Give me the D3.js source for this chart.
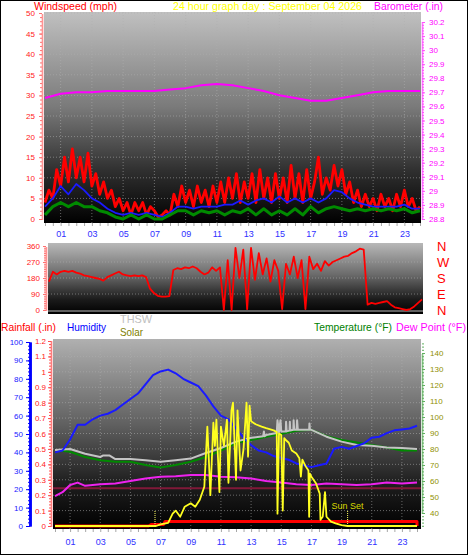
<!DOCTYPE html>
<html><head><meta charset="utf-8">
<script src="https://cdn.jsdelivr.net/npm/d3@7"></script>
<style>
body{margin:0;background:#fff;}
svg{display:block;font-family:"Liberation Sans",Arial,sans-serif;}
</style></head><body>
<svg id="c" width="468" height="555"></svg>
<script>
// ---------------- DATA ----------------
const titleText = "24 hour graph day : September 04 2026";
const hourTickValues = [1,3,5,7,9,11,13,15,17,19,21,23];
const hourTickLabels = ["01","03","05","07","09","11","13","15","17","19","21","23"];

// wind speed (mph), 15-minute samples from 00:00 to 24:00
const windHighStep = 0.25;
const windHigh = [4,7,5,12,8,15,9,17,10,15,9,16,8,11,6,9,5,7,3,5,2,4,1,4,2,4,1,3,2,0.5,1,2,
  1,6,3,8,4,7,3,8,4,7,3,8,4,9,4,10,5,11,4,9,5,11,4,12,5,10,4,11,5,10,4,13,5,11,4,12,
  5,9,15,6,10,7,13,8,12,6,9,4,7,3,6,3,5,2,6,3,5,2,6,3,7,3,5,2,3];
// wind average, 30-minute samples
const windAvgStep = 0.5;
const windAvg = [3,5,8,6,8.5,7,5,4,2.5,1.5,1,1.5,1,1.5,1,0.5,1.5,3,3,2.5,3,3,3,3.5,3.5,4.5,
  3.5,4.5,5,4,5.5,4,5,4,5,4,5,7,6.5,5,4,3.5,3,3,3,3,3.5,2.5,2.5];
// wind low, 30-minute samples
const windLow = [1,3,4,3,4,3,3,2,1.5,0.5,0,1,0,1,0,0,1,2,2,1,2,1.5,2,1,2,1.5,2.5,1,2.5,1,
  2,1,2.5,1,3,1.5,2.5,3,2.5,2,2.5,2,2.5,2,2.5,2,2.5,1.5,2];
// barometer (in), hourly
const baroStep = 1;
const barometer = [29.66,29.69,29.70,29.70,29.71,29.71,29.71,29.71,29.72,29.73,29.75,29.76,
  29.75,29.73,29.71,29.68,29.66,29.64,29.64,29.66,29.68,29.70,29.71,29.71,29.71];
const windTicks = [0,5,10,15,20,25,30,35,40,45,50];
const baroTicks = [28.8,28.9,29,29.1,29.2,29.3,29.4,29.5,29.6,29.7,29.8,29.9,30,30.1,30.2];

// wind direction (deg), 15-minute samples
const dirStep = 0.25;
const windDir = [160,215,200,215,220,215,220,210,205,195,190,185,180,175,165,185,
  195,205,215,200,195,190,195,190,195,185,120,95,80,75,75,78,
  225,235,230,240,235,245,235,215,200,210,240,220,240,0,280,0,
  350,180,340,5,350,170,320,200,290,160,280,220,5,260,200,300,
  180,280,5,300,230,260,220,275,250,270,280,290,300,305,320,330,
  345,340,30,40,35,40,45,50,30,15,10,5,0,5,20,40,60];
const dirTicks = [0,90,180,270,360];
const compassLabels = ["N","W","S","E","N"];
const compassDeg = [360,270,180,90,0];

// bottom chart
const humidityStep = 0.5;
const humidity = [40,41,47,55,55,58,60,61,63,66,69,72,77,82,84,85,83,80,78,76,71,65,60,58,53,
  48,44,41,40,38,37,36,34,33,32,33,34,42,43,42,43.5,45,48,48.5,50.5,52,52.5,53,54.5];
const tempStep = 1;
const temperature = [79.4,78.3,75,73,72,72,70,68.5,70,72,75,79,83.7,85.6,87.7,89.4,91.4,92,88,
  85.6,84,82.5,81,79,79];
const thsw = [[0,79.4],[1,80],[2,77],[3,75],[3.2,76],[3.6,76],[4,73.7],[5,73.7],[6,73],[7,72],
  [8,73],[9,74],[10,77.5],[11,80.6],[12,84.6],[13,87],[13.8,88],[13.85,91],[13.9,88],[14,88.7],
  [14.7,90],[14.75,98],[14.85,90.5],[14.95,98],[15,91],[15.3,91],[15.32,97],[15.36,91],
  [15.55,91.5],[15.57,97],[15.6,91.5],[15.8,92],[15.82,98],[15.86,92],[16.02,92],[16.05,98],
  [16.1,92],[16.85,92],[16.87,96],[16.9,92],[17,92],[18,87.7],[19,84.6],[20,82.5],[21,82],
  [22,81],[23,80.6],[24,80]];
const dewPoint = [[0,50.6],[0.5,53],[1,57.5],[1.5,59],[2,57],[3,58],[4,58.5],[5,60],[6,61.6],
  [7,62.7],[8,63],[9,63.7],[10,63.7],[11,62.7],[12,62.3],[13,61.6],[14,60],[15,59],[16,58],
  [17,57.5],[18,58.5],[19,58],[20,57.5],[21,58],[22,59],[23,58.5],[24,59]];
const rainfall = [[0,0],[6.2,0],[6.4,0.01],[7.2,0.01],[7.3,0.03],[24,0.03],[24,0]];
const refLevel = [0.245];
const solar = [[0,0],[6.7,0],[7.0,10],[7.5,20],[7.8,80],[8.0,100],[8.3,60],[8.6,125],[9.0,147],
  [9.3,125],[9.6,170],[9.9,255],[10.1,645],[10.2,430],[10.3,200],[10.5,670],[10.6,520],
  [10.7,690],[10.9,220],[11.0,645],[11.2,520],[11.4,690],[11.5,280],[11.7,750],[11.8,800],
  [12.0,300],[12.1,750],[12.3,360],[12.5,500],[12.7,800],[12.8,450],[12.9,780],[13.0,680],
  [13.3,660],[13.7,645],[14.0,635],[14.5,620],[14.7,610],[14.75,80],[14.85,600],[15.0,590],
  [15.1,100],[15.2,570],[15.3,558],[15.5,540],[15.7,490],[16.0,470],[16.2,440],[16.3,320],
  [16.4,430],[16.6,390],[16.8,360],[16.85,60],[16.9,340],[17.0,320],[17.3,277],[17.55,210],
  [17.6,40],[17.75,60],[17.9,220],[18.0,60],[18.3,28],[18.6,17],[19.0,6],[19.4,0],[24,0]];
const sunTimes = [6.63, 19.4];
const sunLabels = ["", "Sun Set"];
const humTicks = [0,10,20,30,40,50,60,70,80,90,100];
const rainTicks = [0,0.1,0.2,0.3,0.4,0.5,0.6,0.7,0.8,0.9,1,1.1,1.2];
const tempTicks = [40,50,60,70,80,90,100,110,120,130,140];

// ---------------- DRAW ----------------
const svg = d3.select("#c");
const defs = svg.append("defs");
function grad(id, stops){
  const g = defs.append("linearGradient").attr("id",id).attr("x1",0).attr("y1",0).attr("x2",0).attr("y2",1);
  stops.forEach(s=>g.append("stop").attr("offset",s[0]).attr("stop-color",s[1]));
}
grad("gTop",[["0%","#c0c0c0"],["45%","#7a7a7a"],["75%","#303030"],["100%","#000"]]);
grad("gMid",[["0%","#b8b8b8"],["45%","#6a6a6a"],["80%","#1a1a1a"],["100%","#000"]]);
grad("gBot",[["0%","#b0b0b0"],["45%","#606060"],["75%","#202020"],["100%","#000"]]);

svg.append("rect").attr("x",0.5).attr("y",0.5).attr("width",467).attr("height",554)
  .attr("fill","#fff").attr("stroke","#000");

const FONT = '"Liberation Sans",Arial,sans-serif';
function label(x,y,txt,color,size,len,anchor){
  const t = svg.append("text").attr("x",x).attr("y",y).text(txt).attr("fill",color)
    .attr("font-size",size).attr("font-family",FONT);
  if(len) t.attr("textLength",len).attr("lengthAdjust","spacingAndGlyphs");
  if(anchor) t.attr("text-anchor",anchor);
  return t;
}
function vAxis(scale, x, side, major, minor, fmt, lineColor, textColor, dashed, size, pad, lineW){
  const mk = ()=> side==="left" ? d3.axisLeft(scale) : d3.axisRight(scale);
  const g = svg.append("g").attr("transform",`translate(${x},0)`);
  g.append("g").call(mk().tickValues(minor).tickSize(2).tickSizeOuter(0).tickFormat(""));
  g.append("g").call(mk().tickValues(major).tickSize(size).tickSizeOuter(0).tickPadding(pad).tickFormat(fmt));
  g.selectAll("path.domain").attr("stroke",lineColor).attr("stroke-width",lineW||1.5)
    .attr("stroke-dasharray",dashed?"1,1":null);
  g.selectAll(".tick line").attr("stroke",lineColor);
  g.selectAll("text").attr("fill",textColor).attr("font-size",8).attr("font-family",FONT);
  return g;
}
function grid(xs, ys, rect, xVals, yVals){
  const g = svg.append("g").attr("stroke","#b0b0b0").attr("stroke-dasharray","1,2").attr("opacity",0.55);
  xVals.forEach(v=>g.append("line").attr("x1",xs(v)).attr("x2",xs(v)).attr("y1",rect[1]).attr("y2",rect[3]));
  yVals.forEach(v=>g.append("line").attr("y1",ys(v)).attr("y2",ys(v)).attr("x1",rect[0]).attr("x2",rect[2]));
}
function plotRect(r, fill){
  svg.append("rect").attr("x",r[0]).attr("y",r[1]).attr("width",r[2]-r[0]).attr("height",r[3]-r[1]).attr("fill",fill);
}
function xLabels(xs, y, color){
  const g = svg.append("g").attr("transform",`translate(0,${y})`)
    .call(d3.axisBottom(xs).tickValues(hourTickValues).tickSize(0).tickPadding(0)
      .tickFormat((d,i)=>hourTickLabels[i]));
  g.select("path.domain").remove();
  g.selectAll("text").attr("fill",color).attr("font-size",9).attr("font-family",FONT);
}
function xMinor(xs, y){
  const g = svg.append("g").attr("transform",`translate(0,${y})`)
    .call(d3.axisBottom(xs).tickValues(d3.range(0,24.01,0.5)).tickSize(3).tickFormat(""));
  g.select("path.domain").remove();
  g.selectAll(".tick line").attr("stroke","#a8a8a8");
}
function series(vals, step){ return vals.map((v,i)=>[i*step, v]); }
function drawLine(data, xs, ys, color, w, clip){
  svg.append("path").datum(data).attr("fill","none").attr("stroke",color).attr("stroke-width",w)
    .attr("stroke-linejoin","round").attr("clip-path",clip||null)
    .attr("d", d3.line().x(d=>xs(d[0])).y(d=>ys(d[1])));
}
function clip(id, r){
  defs.append("clipPath").attr("id",id).append("rect").attr("x",r[0]).attr("y",r[1])
    .attr("width",r[2]-r[0]).attr("height",r[3]-r[1]);
  return `url(#${id})`;
}

// ---- header
label(34,10,"Windspeed (mph)","#ff0000",11,83);
label(173,10,titleText,"#ffff00",11,189);
label(374,10,"Barometer (.in)","#ff00ff",11,69);

// ---- TOP chart
const rTop = [44,12,421,223];
const xTop = d3.scaleLinear([0,24],[45,420]);
const yWind = d3.scaleLinear([0,50],[219,13]);
const yBaro = d3.scaleLinear([28.8,30.2],[219,22]);
plotRect(rTop,"url(#gTop)");
grid(xTop, yWind, rTop, hourTickValues, windTicks.slice(1));
const cTop = clip("cTop", rTop);
drawLine(series(barometer,baroStep), xTop, yBaro, "#ff00ff", 2, cTop);
drawLine(series(windHigh,windHighStep), xTop, yWind, "#ff0000", 2.8, cTop);
drawLine(series(windAvg,windAvgStep), xTop, yWind, "#1a1aff", 1.8, cTop);
drawLine(series(windLow,windAvgStep), xTop, yWind, "#008a00", 3, cTop);
vAxis(yWind, 42, "left", windTicks, d3.range(0,50.1,1), d=>d, "#ff7070", "#ff2020", true, 3, 4);
vAxis(yBaro, 422, "right", baroTicks, d3.range(28.8,30.21,0.02), d=>d, "#ff50ff", "#ff00ff", true, 3, 4);
xMinor(xTop, 223);
xLabels(xTop, 231, "#3030ff");

// ---- MIDDLE chart
const rMid = [48,243,423,314];
const xMid = d3.scaleLinear([0,24],[49,422]);
const yDir = d3.scaleLinear([0,360],[310,246]);
plotRect(rMid,"url(#gMid)");
grid(xMid, yDir, rMid, [], [90,180,270]);
svg.append("line").attr("x1",rMid[0]).attr("x2",rMid[2]).attr("y1",yDir(0)+1).attr("y2",yDir(0)+1)
  .attr("stroke","#606060").attr("stroke-width",2);
drawLine(series(windDir,dirStep), xMid, yDir, "#ff0000", 1.8, clip("cMid",rMid));
vAxis(yDir, 46, "left", dirTicks, d3.range(0,361,10), d=>d, "#ff7070", "#ff2020", true, 3, 3);
svg.append("g").selectAll("text").data(compassLabels).join("text")
  .attr("x",437).attr("y",(d,i)=>yDir(compassDeg[i])).attr("dy","0.36em")
  .attr("fill","#ff0000").attr("font-size",13).attr("font-family",FONT).text(d=>d);

// ---- legend of bottom chart
label(1,331,"Rainfall (.in)","#ff0000",11,55);
label(67,331,"Humidity","#0000ff",11,39);
label(120,323,"THSW","#c0c0c0",11,32);
label(120,336,"Solar","#808000",11,23);
label(314,331,"Temperature (\u00B0F)","#008000",11,78);
label(396,331,"Dew Point (\u00B0F)","#ff00ff",11,70);

// ---- BOTTOM chart
const rBot = [53,339,421,529];
const xBot = d3.scaleLinear([0,24],[55,417]);
const yHum = d3.scaleLinear([0,100],[526,342]);
const yRain = d3.scaleLinear([0,1.2],[526,341]);
const ySolar = d3.scaleLinear([0,1200],[526,341]);
const yTemp = d3.scaleLinear([40,140],[513,353]);
plotRect(rBot,"url(#gBot)");
grid(xBot, yRain, rBot, hourTickValues, rainTicks.slice(1));
const cBot = clip("cBot", rBot);
refLevel.forEach(v=>svg.append("line").attr("x1",rBot[0]).attr("x2",rBot[2]).attr("y1",yRain(v)).attr("y2",yRain(v))
  .attr("stroke","#801838").attr("stroke-width",2));
drawLine(dewPoint, xBot, yTemp, "#ee22ee", 2, cBot);
drawLine(series(temperature,tempStep), xBot, yTemp, "#008a00", 2, cBot);
drawLine(thsw, xBot, yTemp, "#c4c4c4", 2, cBot);
drawLine(series(humidity,humidityStep), xBot, yHum, "#1a1aff", 2, cBot);
drawLine(rainfall, xBot, yRain, "#ff0000", 3, cBot);
drawLine(solar, xBot, ySolar, "#ffff20", 1.8, cBot);
sunTimes.forEach((t,i)=>{
  svg.append("line").attr("x1",xBot(t)).attr("x2",xBot(t)).attr("y1",yRain(0)).attr("y2",yRain(0.1))
    .attr("stroke","#ffff60").attr("stroke-dasharray","1,1").attr("stroke-width",1);
  if(sunLabels[i]) label(xBot(t),509,sunLabels[i],"#d8d800",9,null,"middle");
});
vAxis(yHum, 30, "left", humTicks, d3.range(0,101,2), d=>d, "#0000ff", "#2020ff", false, 4, 3, 2.5);
vAxis(yRain, 51, "left", rainTicks, d3.range(0,1.201,0.02), d=>d, "#ff5050", "#ff2020", true, 3, 2);
vAxis(yTemp, 422, "right", tempTicks, d3.range(32,148,2), d=>d, "#60b060", "#909000", true, 3, 5);
xMinor(xBot, 529);
xLabels(xBot, 539, "#3030ff");
</script>
</body></html>
